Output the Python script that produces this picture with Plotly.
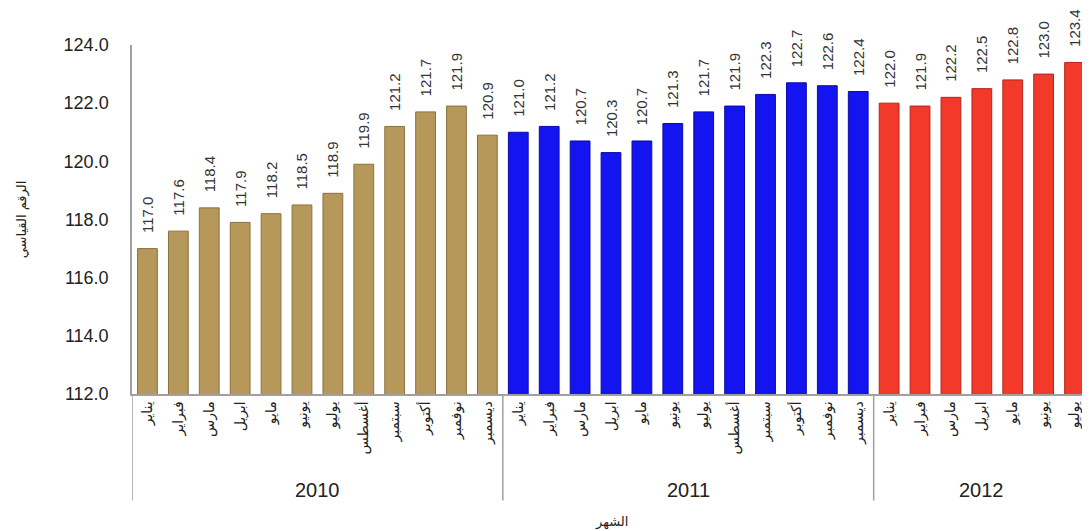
import plotly.graph_objects as go

years = ["2010", "2011", "2012"]
months = ["يناير", "فبراير", "مارس", "ابريل", "مايو", "يونيو", "يوليو",
          "أغسطس", "سبتمبر", "أكتوبر", "نوفمبر", "ديسمبر"]
values_2010 = [117.0, 117.6, 118.4, 117.9, 118.2, 118.5, 118.9, 119.9, 121.2, 121.7, 121.9, 120.9]
values_2011 = [121.0, 121.2, 120.7, 120.3, 120.7, 121.3, 121.7, 121.9, 122.3, 122.7, 122.6, 122.4]
values_2012 = [122.0, 121.9, 122.2, 122.5, 122.8, 123.0, 123.4]
year_values = [values_2010, values_2011, values_2012]
year_colors = ["#B5985A", "#1414F0", "#F2392A"]
year_lines = ["#8A723F", "#0A0AA8", "#B52418"]
y_ticks = [112, 114, 116, 118, 120, 122, 124]

keys, labels, vals, cols, lcols = [], [], [], [], []
for yr, vs, c, lc in zip(years, year_values, year_colors, year_lines):
    for i, v in enumerate(vs):
        keys.append(f"{months[i]} {yr}")
        labels.append(months[i])
        vals.append(v)
        cols.append(c)
        lcols.append(lc)

NB = "\u00a0"
fig = go.Figure()
fig.add_trace(go.Bar(
    x=keys, y=vals,
    marker=dict(color=cols, line=dict(color=lcols, width=1)),
    width=0.64,
    text=[NB * 3 + f"{v:.1f}" for v in vals],
    textposition="outside",
    textangle=-90,
    constraintext="none",
    cliponaxis=False,
    textfont=dict(family="Liberation Sans Narrow, Liberation Sans, Arial", size=15, color="#333333"),
    hoverinfo="x+y",
))

shapes = []
annotations = []
start = 0
bounds = [-0.5]
for yr, vs in zip(years, year_values):
    n = len(vs)
    center = start + (n - 1) / 2
    annotations.append(dict(x=center, y=-0.275, xref="x", yref="paper",
                            yanchor="middle", text=yr, showarrow=False,
                            font=dict(family="Liberation Sans, Arial", size=20, color="#222222")))
    start += n
    bounds.append(start - 0.5)
for b in bounds:
    shapes.append(dict(type="line", xref="x", yref="paper", x0=b, x1=b, y0=0, y1=-0.305,
                       line=dict(color="#A0A0A0", width=1.5)))

annotations.append(dict(x=0.5, y=-0.367, xref="paper", yref="paper", yanchor="middle",
                        text="الشهر", showarrow=False,
                        font=dict(family="DejaVu Sans", size=13, color="#222222")))

fig.update_layout(
    width=1082, height=523,
    margin=dict(l=124, r=0, t=37, b=137),
    paper_bgcolor="white", plot_bgcolor="white",
    showlegend=False,
    bargap=0.36,
    shapes=shapes,
    annotations=annotations,
    xaxis=dict(
        type="category",
        tickvals=keys, ticktext=labels,
        tickangle=-90,
        tickfont=dict(family="DejaVu Sans", size=14, color="#222222"),
        showgrid=False, zeroline=False,
        showline=True, linecolor="#A0A0A0", linewidth=1.5,
        ticks="", range=[-0.5, len(keys) - 0.5],
    ),
    yaxis=dict(
        range=[112, 124],
        tickvals=y_ticks,
        tickformat=".1f",
        tickfont=dict(family="Liberation Sans, Arial", size=18, color="#222222"),
        ticklabelstandoff=18,
        showgrid=False, zeroline=False,
        showline=True, linecolor="#A0A0A0", linewidth=1.5,
        ticks="",
        title=dict(text="الرقم القياسي", font=dict(family="DejaVu Sans", size=13, color="#222222"),
                   standoff=34),
    ),
)

fig.write_html("out.html")
